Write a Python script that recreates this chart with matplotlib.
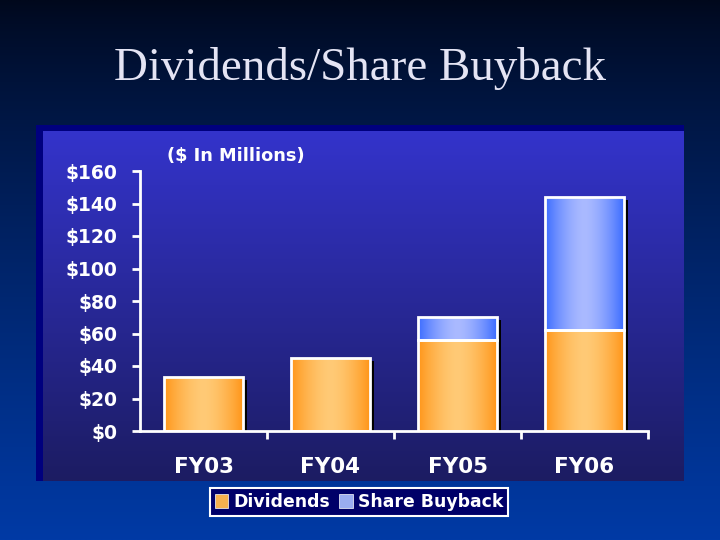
import numpy as np
import matplotlib
matplotlib.use("Agg")
import matplotlib.pyplot as plt
import matplotlib.transforms as mtransforms
from matplotlib.patches import Rectangle, Patch

categories = ["FY03", "FY04", "FY05", "FY06"]
dividends = [33, 45, 56, 62]
buyback = [0, 0, 14, 82]
ytick_vals = [0, 20, 40, 60, 80, 100, 120, 140, 160]
ytick_labels = ["$0", "$20", "$40", "$60", "$80", "$100", "$120", "$140", "$160"]

W, H = 720, 540
SANS = "DejaVu Sans"
fig = plt.figure(figsize=(7.2, 5.4), dpi=100)

# ---- background (slide + panel) in pixel coords
bg = fig.add_axes([0, 0, 1, 1])
bg.axis("off")
ys = np.linspace(0, 1, 256)[:, None]
top = np.array([0, 8, 28]) / 255
bot = np.array([0, 58, 165]) / 255
grad = top + (bot - top) * (ys[..., None] ** 0.8)
grad = np.repeat(grad, 2, axis=1)
bg.imshow(grad, extent=(0, W, H, 0), aspect="auto", zorder=0, interpolation="bilinear")

ptop = np.array([52, 52, 205]) / 255
pbot = np.array([28, 28, 98]) / 255
pgrad = ptop + (pbot - ptop) * ys[..., None]
pgrad = np.repeat(pgrad, 2, axis=1)
bg.imshow(pgrad, extent=(36, 684, 481, 125), aspect="auto", zorder=1, interpolation="bilinear")
bg.add_patch(Rectangle((36, 125), 648, 6, color="#00007e", zorder=2, lw=0))
bg.add_patch(Rectangle((36, 125), 7, 356, color="#00007e", zorder=2, lw=0))
bg.set_xlim(0, W)
bg.set_ylim(H, 0)

fig.text(0.5, 1 - 68 / H, "Dividends/Share Buyback", ha="center", va="center",
         family="Liberation Serif", fontsize=33.8, color="#e4e4f4")
fig.text(236 / W, 1 - 156 / H, "($ In Millions)", ha="center", va="center",
         family=SANS, fontweight="bold", fontsize=12.8, color="white")

# ---- main axes
ax = fig.add_axes([140 / W, 1 - 431 / H, 508 / W, 260 / H])
ax.set_facecolor("none")
x = np.arange(len(categories))
bw = 0.62

def hgrad(edge, center):
    t = np.abs(np.linspace(-1, 1, 200))
    t = t ** 1.6
    e = np.array(edge) / 255
    c = np.array(center) / 255
    g = c + (e - c) * t[:, None]
    return g[None, :, :]

orange = hgrad((255, 150, 25), (255, 202, 118))
blue = hgrad((60, 108, 255), (170, 186, 255))

shadow_tr = mtransforms.offset_copy(ax.transData, fig=fig, x=4, y=-3, units="dots")

def draw_bars(vals, bottoms, img):
    for xi, v, b in zip(x, vals, bottoms):
        if v <= 0:
            continue
        ax.bar(xi, v, bw, bottom=b, color="black", transform=shadow_tr, zorder=2, lw=0)
        bars = ax.bar(xi, v, bw, bottom=b, color="none", edgecolor="white", lw=2, zorder=4)
        p = bars[0]
        im = ax.imshow(img, extent=(p.get_x(), p.get_x() + p.get_width(), b, b + v),
                       aspect="auto", zorder=3, interpolation="bilinear")
        im.set_clip_path(p)

draw_bars(dividends, [0] * 4, orange)
draw_bars(buyback, dividends, blue)
ax.set_xlim(-0.5, len(categories) - 0.5)
ax.set_ylim(0, 160)

for s in ["top", "right"]:
    ax.spines[s].set_visible(False)
for s in ["left", "bottom"]:
    ax.spines[s].set_color("white")
    ax.spines[s].set_linewidth(2)
    ax.spines[s].set_zorder(5)

ax.set_yticks(ytick_vals)
ax.set_yticklabels(ytick_labels, family=SANS, fontweight="bold",
                   fontsize=13.5, color="white")
ax.tick_params(axis="y", direction="out", length=6, width=2, color="white", pad=10)
ax.set_xticks(x)
ax.set_xticklabels(categories, family=SANS, fontweight="bold",
                   fontsize=15.5, color="white")
ax.tick_params(axis="x", which="major", length=0, pad=19)
ax.set_xticks(np.arange(0.5, len(categories), 1), minor=True)
ax.tick_params(axis="x", which="minor", direction="out", length=6, width=2, color="white")

handles = [Patch(facecolor="#f5b04f", edgecolor="#ffffff", lw=0.5, label="Dividends"),
           Patch(facecolor="#9aacf0", edgecolor="#ffffff", lw=0.5, label="Share Buyback")]
leg = fig.legend(handles=handles, loc="center", bbox_to_anchor=(359 / W, 1 - 502 / H),
                 ncol=2, frameon=True, fancybox=False, handlelength=0.8, handleheight=0.8,
                 handletextpad=0.3, columnspacing=0.5, borderpad=0.3, borderaxespad=0,
                 prop={"family": SANS, "weight": "bold", "size": 12.4})
leg.get_frame().set_facecolor("#000068")
leg.get_frame().set_edgecolor("white")
leg.get_frame().set_linewidth(1.5)
leg.get_frame().set_alpha(1)
for t in leg.get_texts():
    t.set_color("white")

fig.savefig("out.png", dpi=100)
